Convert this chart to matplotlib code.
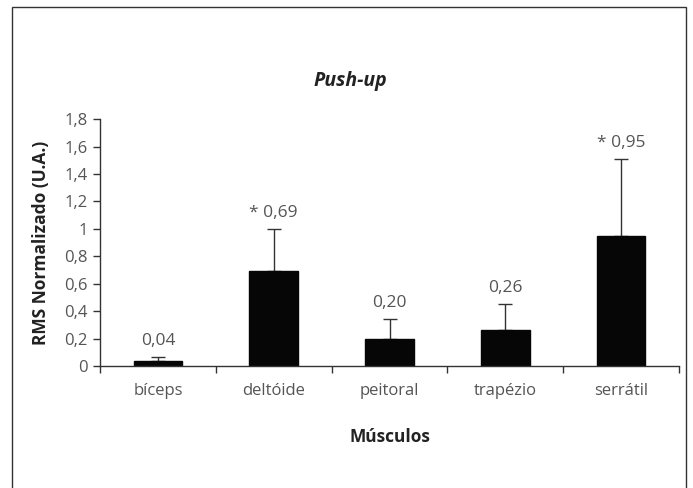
import matplotlib
matplotlib.use("Agg")
from matplotlib import pyplot as plt
from matplotlib.patches import Rectangle
from matplotlib.ticker import FixedLocator, FuncFormatter
import numpy as np

# data
muscles = ["bíceps", "deltóide", "peitoral", "trapézio", "serrátil"]
rms_mean = [0.04, 0.69, 0.20, 0.26, 0.95]
rms_err = [0.025, 0.31, 0.14, 0.19, 0.56]
value_labels = ["0,04", "* 0,69", "0,20", "0,26", "* 0,95"]

plt.rcParams['font.family'] = ['Open Sans', 'DejaVu Sans']

fig = plt.figure(figsize=(6.93, 4.88), dpi=100, facecolor="white")
ax = fig.add_axes([0.1443, 0.25, 0.8355, 0.506])

x = np.arange(len(muscles))
ax.bar(x, rms_mean, width=0.42, color="#060606", edgecolor="#060606", zorder=2)
ax.errorbar(x, rms_mean, yerr=[np.zeros(len(x)), rms_err], fmt="none",
            ecolor="#333333", elinewidth=1, capsize=5, capthick=1, zorder=1)

for xi, m, e, lab in zip(x, rms_mean, rms_err, value_labels):
    ax.text(xi, m + e + 0.06, lab, ha="center", va="bottom",
            fontsize=12.5, color="#555555")

ax.set_xlim(-0.5, len(muscles) - 0.5)
ax.set_ylim(0, 1.8)

ax.set_yticks(np.arange(0, 1.81, 0.2))
ax.yaxis.set_major_formatter(FuncFormatter(
    lambda v, p: ("%g" % round(v, 1)).replace(".", ",")))
ax.set_xticks(x)
ax.set_xticklabels(muscles)
ax.xaxis.set_minor_locator(FixedLocator(np.arange(-0.5, len(muscles), 1.0)))
ax.tick_params(axis="x", which="major", length=0, pad=12, labelsize=12,
               labelcolor="#555555")
ax.tick_params(axis="x", which="minor", length=5, width=1, color="#333333")
ax.tick_params(axis="y", length=5, width=1, color="#333333", labelsize=12,
               labelcolor="#555555", pad=4)

for s in ["top", "right"]:
    ax.spines[s].set_visible(False)
for s in ["left", "bottom"]:
    ax.spines[s].set_color("#333333")
    ax.spines[s].set_linewidth(1)

ax.set_ylabel("RMS Normalizado (U.A.)", fontsize=12.5, fontweight="bold",
              color="#222222", labelpad=10)
ax.set_xlabel("Músculos", fontsize=12.5, fontweight="bold", color="#222222",
              labelpad=21)
fig.text(0.505, 0.834, "Push-up", ha="center", va="center", fontsize=14,
         fontweight="bold", fontstyle="italic", color="#222222")

# outer frame
fig.patches.append(Rectangle((12 / 693, -0.05), 674 / 693, 1.05 - 7 / 488,
                             transform=fig.transFigure, fill=False,
                             edgecolor="#333333", linewidth=1))

fig.savefig("out.png", dpi=100, facecolor="white")
